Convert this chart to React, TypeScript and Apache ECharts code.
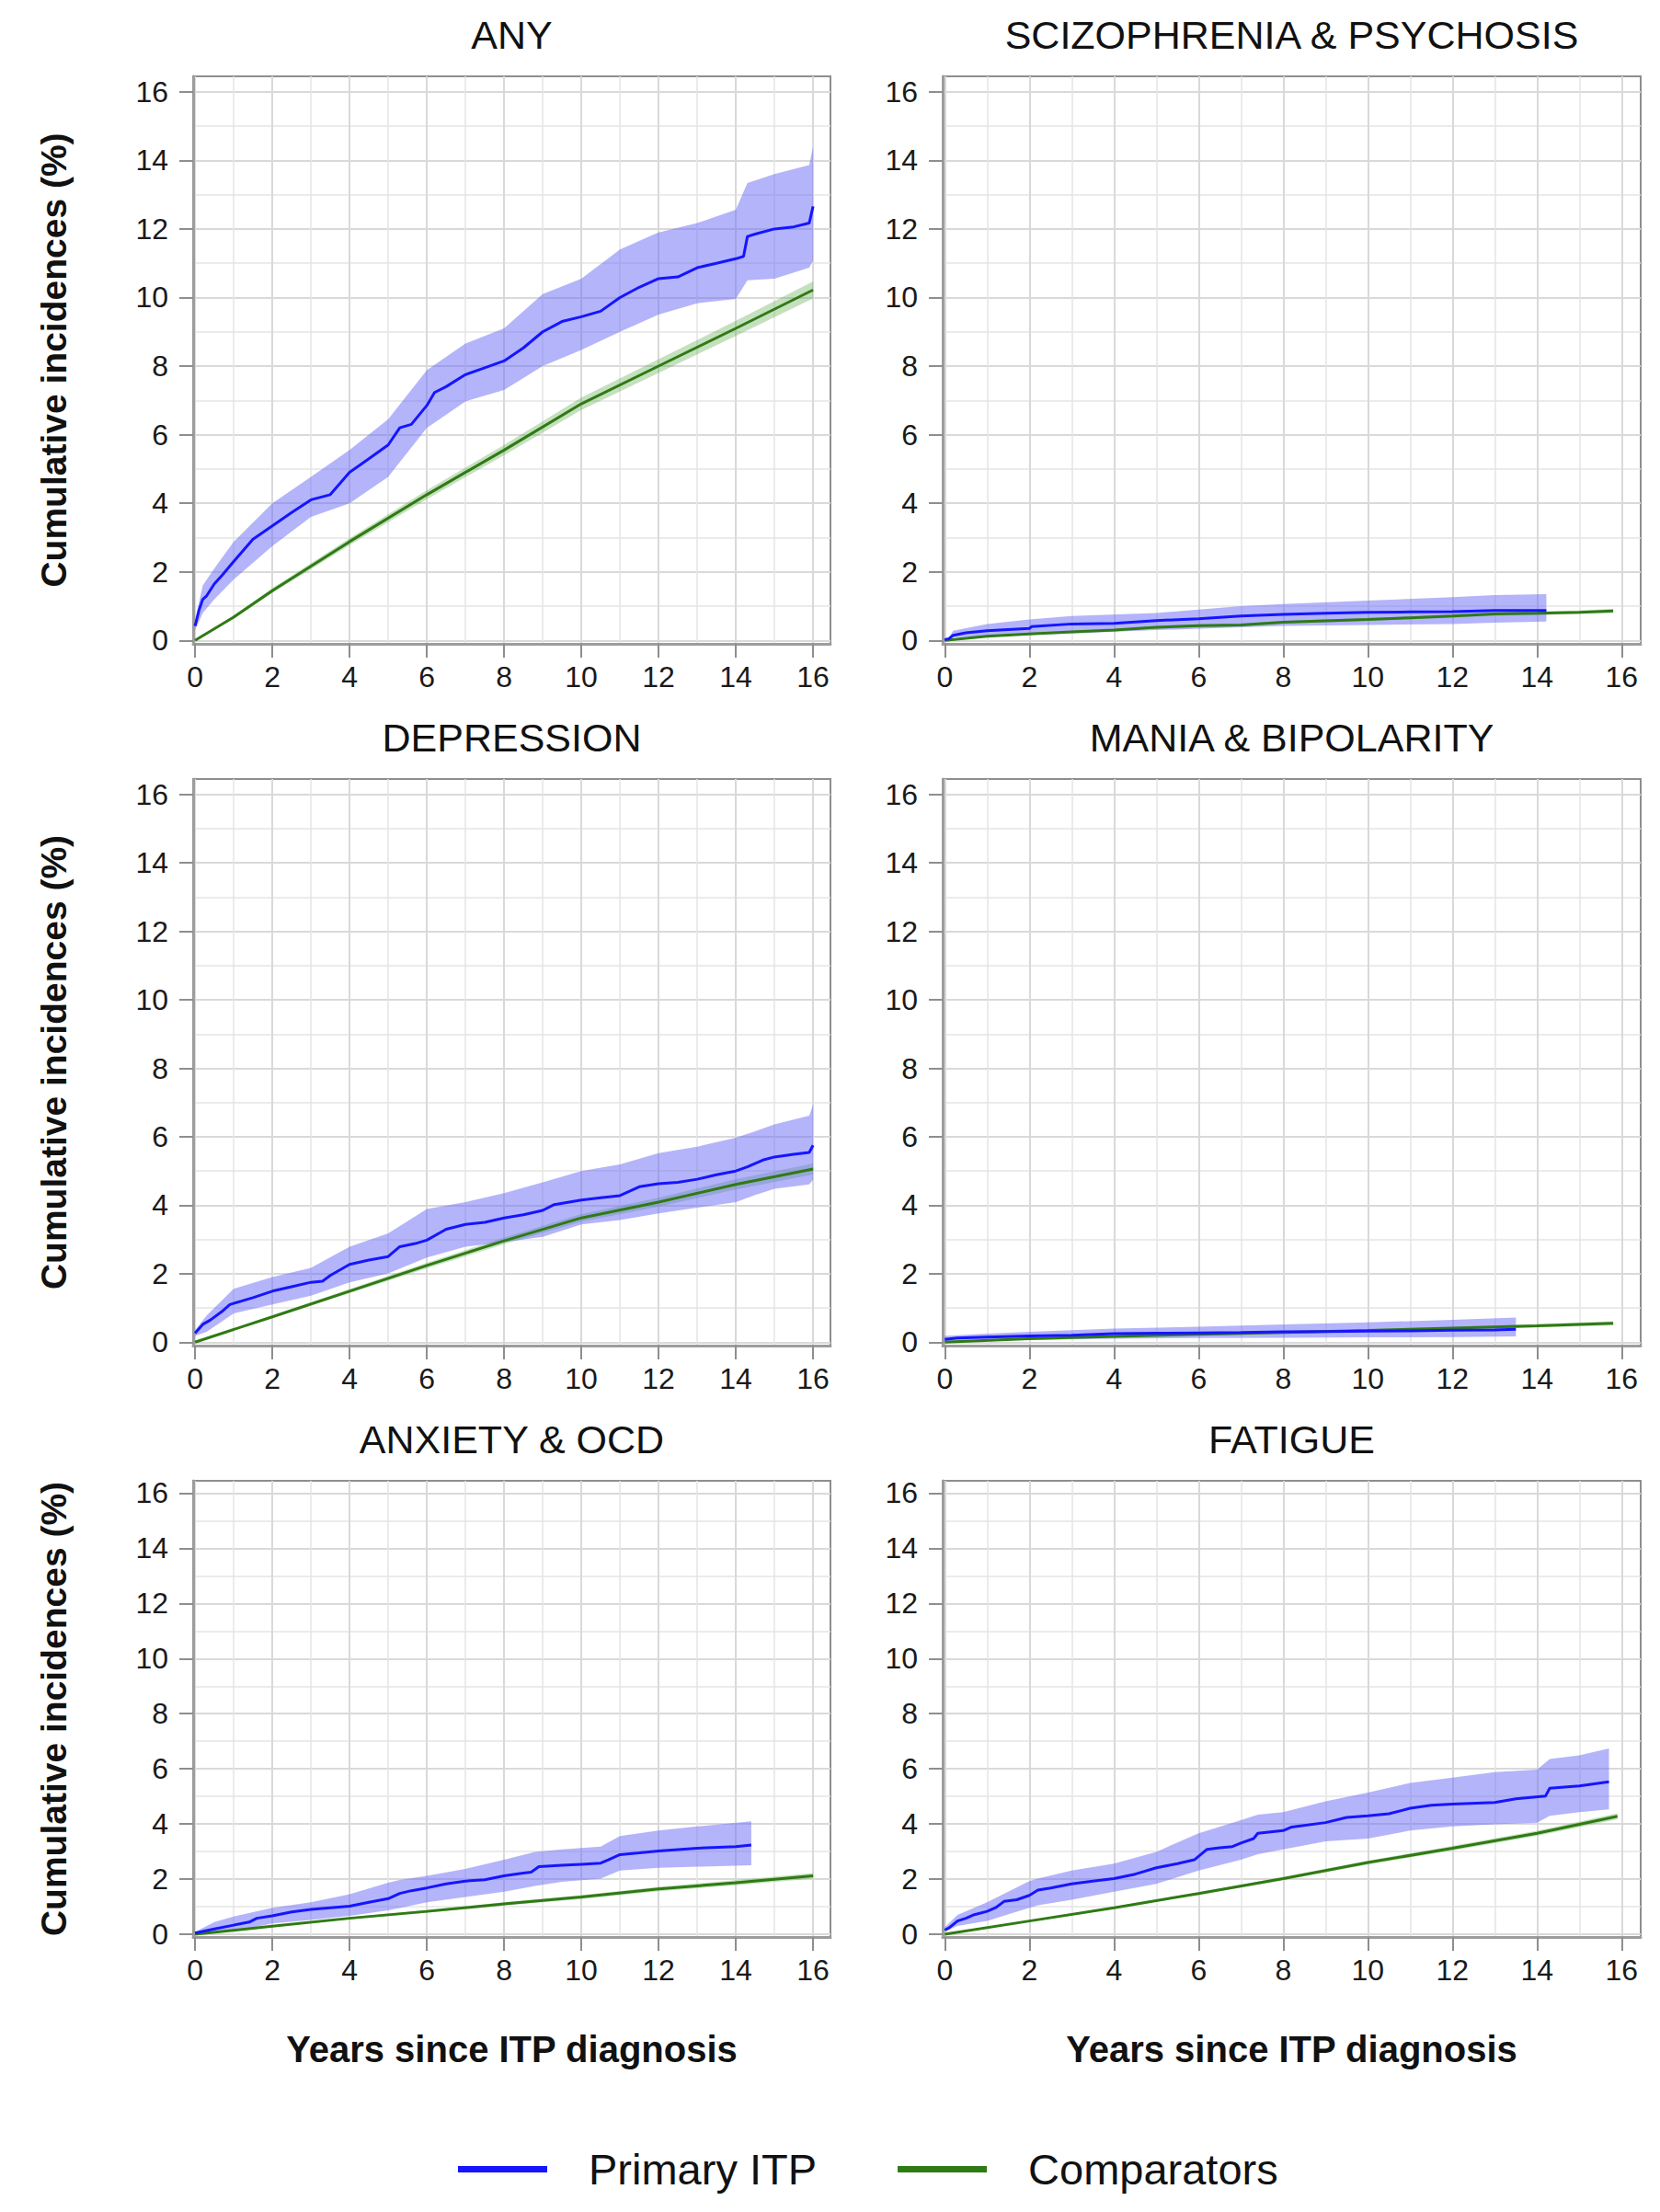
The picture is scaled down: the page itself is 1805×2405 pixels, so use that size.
import React, { useEffect, useRef } from 'react';
import * as echarts from 'echarts';

const FONT = '"Liberation Sans", Arial, Helvetica, sans-serif';

const xTickValues = [0, 2, 4, 6, 8, 10, 12, 14, 16];
const yTickValues = [0, 2, 4, 6, 8, 10, 12, 14, 16];
const panelTitles = ['ANY', 'SCIZOPHRENIA & PSYCHOSIS', 'DEPRESSION', 'MANIA & BIPOLARITY', 'ANXIETY & OCD', 'FATIGUE'];
const seriesNames = ['Primary ITP', 'Comparators'];
const yAxisTitle = 'Cumulative incidences (%)';
const xAxisTitle = 'Years since ITP diagnosis';

// ---------- ANY ----------
const anyItpX = [0, 0.1, 0.2, 0.3, 0.5, 0.7, 1.0, 1.5, 2, 2.5, 3, 3.5, 4, 4.5, 5, 5.3, 5.6, 6, 6.2, 6.5, 7, 7.5, 8, 8.5, 9, 9.5, 10, 10.5, 11, 11.5, 12, 12.5, 13, 13.5, 14, 14.2, 14.3, 14.5, 15, 15.5, 15.9, 16];
const anyItpY = [0.42, 0.87, 1.2, 1.3, 1.65, 1.9, 2.3, 2.95, 3.34, 3.73, 4.1, 4.25, 4.9, 5.3, 5.7, 6.2, 6.3, 6.85, 7.23, 7.4, 7.75, 7.95, 8.15, 8.53, 9.0, 9.3, 9.44, 9.6, 10.0, 10.3, 10.55, 10.6, 10.87, 11.0, 11.13, 11.2, 11.78, 11.85, 12.0, 12.06, 12.17, 12.66];
const anyItpBandX = [0, 0.2, 0.5, 1, 2, 3, 4, 5, 6, 7, 8, 9, 10, 11, 12, 13, 14, 14.3, 15, 15.9, 16];
const anyItpLo = [0.3, 0.8, 1.2, 1.78, 2.75, 3.6, 4.0, 4.77, 6.2, 6.97, 7.3, 8.0, 8.47, 9.0, 9.5, 9.83, 9.96, 10.5, 10.55, 10.87, 11.07];
const anyItpHi = [0.6, 1.6, 2.1, 2.88, 4.0, 4.77, 5.55, 6.45, 7.88, 8.66, 9.1, 10.1, 10.55, 11.4, 11.9, 12.17, 12.56, 13.34, 13.6, 13.86, 14.4];
const anyCompX = [0, 1, 2, 4, 6, 8, 10, 12, 14, 16];
const anyCompY = [0, 0.68, 1.45, 2.88, 4.25, 5.55, 6.9, 8.0, 9.1, 10.22];
const anyCompLo = [0, 0.63, 1.38, 2.78, 4.12, 5.4, 6.72, 7.8, 8.88, 9.97];
const anyCompHi = [0, 0.73, 1.52, 2.98, 4.38, 5.7, 7.08, 8.2, 9.32, 10.47];

// ---------- SCIZOPHRENIA & PSYCHOSIS ----------
const schItpX = [0, 0.1, 0.2, 0.5, 1, 2, 2.05, 3, 4, 5, 6, 7, 8, 9, 10, 11, 12, 13, 14.22];
const schItpY = [0.02, 0.05, 0.15, 0.22, 0.28, 0.35, 0.4, 0.48, 0.5, 0.58, 0.63, 0.71, 0.76, 0.79, 0.82, 0.83, 0.84, 0.87, 0.87];
const schItpBandX = [0.1, 0.2, 1, 2, 3, 5, 7, 8, 10, 12, 13, 14.22];
const schItpLo = [0.0, 0.09, 0.12, 0.16, 0.2, 0.3, 0.38, 0.42, 0.45, 0.48, 0.52, 0.55];
const schItpHi = [0.1, 0.28, 0.48, 0.61, 0.71, 0.8, 1.0, 1.06, 1.16, 1.26, 1.32, 1.35];
const schCompX = [0, 1, 2, 3, 4, 5, 6, 7, 8, 9, 10, 11, 12, 13, 14, 15, 15.8];
const schCompY = [0, 0.12, 0.19, 0.25, 0.3, 0.38, 0.43, 0.45, 0.53, 0.57, 0.61, 0.66, 0.71, 0.77, 0.79, 0.82, 0.86];
const schCompLo = [0, 0.1, 0.16, 0.22, 0.27, 0.34, 0.39, 0.41, 0.49, 0.53, 0.57, 0.62, 0.66, 0.72, 0.74, 0.77, 0.8];
const schCompHi = [0, 0.14, 0.22, 0.28, 0.33, 0.42, 0.47, 0.49, 0.57, 0.61, 0.65, 0.7, 0.76, 0.82, 0.84, 0.87, 0.92];

// ---------- DEPRESSION ----------
const depItpX = [0, 0.2, 0.4, 0.7, 0.9, 1.2, 1.5, 2, 2.5, 3, 3.3, 3.5, 4, 4.5, 5, 5.3, 5.7, 6, 6.5, 7, 7.5, 8, 8.5, 9, 9.3, 10, 10.5, 11, 11.5, 12, 12.5, 13, 13.5, 14, 14.3, 14.7, 15, 15.5, 15.9, 16];
const depItpY = [0.26, 0.52, 0.65, 0.9, 1.1, 1.2, 1.3, 1.49, 1.62, 1.75, 1.78, 1.95, 2.27, 2.4, 2.5, 2.79, 2.88, 2.98, 3.3, 3.44, 3.5, 3.63, 3.72, 3.85, 4.02, 4.15, 4.22, 4.28, 4.54, 4.63, 4.67, 4.76, 4.89, 5.0, 5.12, 5.32, 5.41, 5.49, 5.54, 5.75];
const depItpBandX = [0, 0.3, 1, 2, 3, 4, 5, 6, 7, 8, 9, 10, 11, 12, 13, 14, 14.5, 15, 15.9, 16];
const depItpLo = [0.18, 0.3, 0.84, 1.1, 1.36, 1.75, 2.01, 2.47, 2.79, 2.92, 3.08, 3.44, 3.57, 3.76, 3.93, 4.09, 4.3, 4.48, 4.61, 4.74];
const depItpHi = [0.35, 0.78, 1.56, 1.9, 2.17, 2.79, 3.18, 3.89, 4.09, 4.35, 4.67, 5.0, 5.19, 5.52, 5.71, 5.97, 6.16, 6.36, 6.62, 6.94];
const depCompX = [0, 2, 4, 6, 8, 10, 12, 14, 16];
const depCompY = [0, 0.74, 1.49, 2.24, 2.96, 3.63, 4.09, 4.61, 5.06];
const depCompLo = [0, 0.7, 1.43, 2.16, 2.86, 3.52, 3.96, 4.46, 4.9];
const depCompHi = [0, 0.78, 1.55, 2.32, 3.06, 3.74, 4.22, 4.76, 5.22];

// ---------- MANIA & BIPOLARITY ----------
const manItpX = [0, 0.3, 1, 2, 3, 4, 5, 6, 7, 8, 9, 10, 11, 12, 13, 13.5];
const manItpY = [0.08, 0.12, 0.15, 0.18, 0.2, 0.25, 0.26, 0.27, 0.28, 0.3, 0.31, 0.32, 0.33, 0.35, 0.36, 0.38];
const manItpBandX = [0, 1, 2, 4, 6, 8, 10, 12, 13.5];
const manItpLo = [0.02, 0.05, 0.07, 0.1, 0.12, 0.13, 0.14, 0.15, 0.17];
const manItpHi = [0.18, 0.25, 0.3, 0.4, 0.45, 0.52, 0.58, 0.65, 0.72];
const manCompX = [0, 2, 4, 6, 8, 10, 12, 14, 15.8];
const manCompY = [0, 0.1, 0.17, 0.23, 0.28, 0.34, 0.41, 0.48, 0.55];
const manCompLo = [0, 0.08, 0.15, 0.2, 0.25, 0.3, 0.37, 0.43, 0.49];
const manCompHi = [0, 0.12, 0.19, 0.26, 0.31, 0.38, 0.45, 0.53, 0.61];

// ---------- ANXIETY & OCD ----------
const anxItpX = [0, 0.5, 1, 1.4, 1.6, 2, 2.5, 3, 3.5, 4, 4.5, 5, 5.3, 5.6, 6, 6.5, 7, 7.5, 8, 8.5, 8.7, 8.9, 9.5, 10, 10.5, 10.7, 11, 11.5, 12, 13, 14, 14.4];
const anxItpY = [0.04, 0.19, 0.33, 0.44, 0.58, 0.67, 0.81, 0.9, 0.96, 1.02, 1.16, 1.29, 1.48, 1.58, 1.68, 1.83, 1.93, 1.98, 2.12, 2.22, 2.25, 2.45, 2.5, 2.54, 2.58, 2.7, 2.89, 2.95, 3.02, 3.12, 3.18, 3.24];
const anxItpBandX = [0, 0.5, 1, 2, 3, 4, 5, 5.3, 6, 7, 8, 8.8, 9.5, 10.5, 11, 12, 13, 14.4];
const anxItpLo = [0, 0.05, 0.1, 0.39, 0.52, 0.67, 0.87, 0.95, 1.16, 1.35, 1.54, 1.75, 1.9, 2.02, 2.31, 2.41, 2.45, 2.5];
const anxItpHi = [0.08, 0.44, 0.64, 0.96, 1.16, 1.45, 1.87, 1.97, 2.12, 2.37, 2.7, 2.99, 3.08, 3.18, 3.56, 3.76, 3.91, 4.1];
const anxCompX = [0, 2, 4, 6, 8, 10, 12, 14, 16];
const anxCompY = [0, 0.29, 0.58, 0.83, 1.1, 1.35, 1.64, 1.87, 2.12];
const anxCompLo = [0, 0.26, 0.54, 0.78, 1.04, 1.28, 1.56, 1.78, 2.02];
const anxCompHi = [0, 0.32, 0.62, 0.88, 1.16, 1.42, 1.72, 1.96, 2.22];

// ---------- FATIGUE ----------
const fatItpX = [0, 0.1, 0.3, 0.5, 0.7, 1, 1.2, 1.4, 1.7, 2, 2.2, 2.5, 3, 3.5, 4, 4.5, 5, 5.5, 5.9, 6.2, 6.5, 6.8, 7, 7.3, 7.4, 8, 8.2, 9, 9.5, 10, 10.5, 11, 11.5, 12, 13, 13.5, 14.2, 14.3, 15, 15.7];
const fatItpY = [0.15, 0.23, 0.48, 0.58, 0.71, 0.83, 0.96, 1.19, 1.25, 1.41, 1.6, 1.68, 1.83, 1.93, 2.02, 2.18, 2.41, 2.56, 2.7, 3.08, 3.14, 3.18, 3.31, 3.47, 3.66, 3.76, 3.89, 4.05, 4.24, 4.3, 4.37, 4.57, 4.68, 4.72, 4.78, 4.91, 5.01, 5.3, 5.38, 5.53];
const fatItpBandX = [0, 0.3, 1, 2, 2.2, 3, 4, 5, 6, 7, 7.4, 8, 9, 10, 11, 12, 13, 14, 14.3, 15, 15.7];
const fatItpLo = [0.1, 0.3, 0.48, 0.96, 1.05, 1.25, 1.54, 1.83, 2.31, 2.7, 2.9, 3.08, 3.37, 3.47, 3.76, 3.91, 3.99, 4.05, 4.3, 4.43, 4.53];
const fatItpHi = [0.25, 0.7, 1.16, 1.93, 2.02, 2.31, 2.56, 2.99, 3.66, 4.14, 4.34, 4.43, 4.82, 5.14, 5.49, 5.68, 5.88, 5.97, 6.36, 6.49, 6.74];
const fatCompX = [0, 2, 4, 6, 8, 10, 12, 14, 15.9];
const fatCompY = [0, 0.48, 0.96, 1.48, 2.02, 2.6, 3.12, 3.66, 4.28];
const fatCompLo = [0, 0.45, 0.92, 1.43, 1.96, 2.53, 3.04, 3.57, 4.17];
const fatCompHi = [0, 0.51, 1.0, 1.53, 2.08, 2.67, 3.2, 3.75, 4.39];

const panels = [
  { itpX: anyItpX, itpY: anyItpY, bandX: anyItpBandX, lo: anyItpLo, hi: anyItpHi, compX: anyCompX, compY: anyCompY, compLo: anyCompLo, compHi: anyCompHi },
  { itpX: schItpX, itpY: schItpY, bandX: schItpBandX, lo: schItpLo, hi: schItpHi, compX: schCompX, compY: schCompY, compLo: schCompLo, compHi: schCompHi },
  { itpX: depItpX, itpY: depItpY, bandX: depItpBandX, lo: depItpLo, hi: depItpHi, compX: depCompX, compY: depCompY, compLo: depCompLo, compHi: depCompHi },
  { itpX: manItpX, itpY: manItpY, bandX: manItpBandX, lo: manItpLo, hi: manItpHi, compX: manCompX, compY: manCompY, compLo: manCompLo, compHi: manCompHi },
  { itpX: anxItpX, itpY: anxItpY, bandX: anxItpBandX, lo: anxItpLo, hi: anxItpHi, compX: anxCompX, compY: anxCompY, compLo: anxCompLo, compHi: anxCompHi },
  { itpX: fatItpX, itpY: fatItpY, bandX: fatItpBandX, lo: fatItpLo, hi: fatItpHi, compX: fatCompX, compY: fatCompY, compLo: fatCompLo, compHi: fatCompHi },
];

const BLUE = '#1515ff';
const GREEN = '#2f7a14';
const BLUE_BAND = 'rgba(105,105,245,0.5)';
const GREEN_BAND = 'rgba(90,165,70,0.35)';

const colLeft = [210, 1025];
const colWidth = [693, 759];
const rowTop = [83, 847, 1610];
const rowHeight = [617, 616, 496];

function zip(xs: number[], ys: number[]) {
  return xs.map((x, i) => [x, ys[i]]);
}

function bandSeries(idx: number, xs: number[], lo: number[], hi: number[], color: string, z: number) {
  return {
    type: 'custom',
    xAxisIndex: idx,
    yAxisIndex: idx,
    silent: true,
    z,
    data: [[xs[0], lo[0]]],
    renderItem: (_params: any, api: any) => {
      const pts: number[][] = [];
      for (let i = 0; i < xs.length; i++) pts.push(api.coord([xs[i], hi[i]]));
      for (let i = xs.length - 1; i >= 0; i--) pts.push(api.coord([xs[i], lo[i]]));
      return { type: 'polygon', shape: { points: pts }, style: { fill: color, stroke: 'none' } };
    },
  };
}

function buildOption() {
  const grid: any[] = [];
  const xAxis: any[] = [];
  const yAxis: any[] = [];
  const series: any[] = [];
  const graphic: any[] = [];

  const labelFmt = (v: number) => (Number.isInteger(v) ? String(v) : '');

  panels.forEach((p, i) => {
    const col = i % 2;
    const row = Math.floor(i / 2);
    const left = colLeft[col];
    const top = rowTop[row];
    const width = colWidth[col];
    const height = rowHeight[row];
    grid.push({
      left, top, width, height,
      show: true, borderColor: '#8e8e8e', borderWidth: 2, backgroundColor: '#ffffff',
      containLabel: false,
    });
    const common = {
      type: 'value',
      gridIndex: i,
      splitNumber: 8,
      axisLine: { show: true, onZero: false, lineStyle: { color: '#9c9c9c', width: 3 } },
      axisTick: { show: true, length: 15, inside: false, lineStyle: { color: '#8e8e8e', width: 2 } },
      axisLabel: { show: true, fontSize: 32, color: '#1a1a1a', fontFamily: FONT, formatter: labelFmt },
      splitLine: { show: true, lineStyle: { color: '#d9d9d9', width: 2 } },
      minorTick: { show: false, splitNumber: 2 },
      minorSplitLine: { show: true, lineStyle: { color: '#e4e4e4', width: 1.5 } },
    };
    xAxis.push({
      ...common,
      min: -0.05, max: 16.45,
      axisTick: { ...common.axisTick, customValues: xTickValues },
      axisLabel: { ...common.axisLabel, margin: 20, customValues: xTickValues },
    });
    yAxis.push({
      ...common,
      min: -0.1, max: 16.45,
      axisTick: { ...common.axisTick, customValues: yTickValues },
      axisLabel: { ...common.axisLabel, margin: 27, customValues: yTickValues },
    });

    series.push(bandSeries(i, p.compX, p.compLo, p.compHi, GREEN_BAND, 1));
    series.push(bandSeries(i, p.bandX, p.lo, p.hi, BLUE_BAND, 2));
    series.push({
      type: 'line', name: seriesNames[1], xAxisIndex: i, yAxisIndex: i,
      data: zip(p.compX, p.compY), showSymbol: false, symbol: 'none', z: 3,
      lineStyle: { color: GREEN, width: 3 }, itemStyle: { color: GREEN }, silent: true,
    });
    series.push({
      type: 'line', name: seriesNames[0], xAxisIndex: i, yAxisIndex: i,
      data: zip(p.itpX, p.itpY), showSymbol: false, symbol: 'none', z: 4,
      lineStyle: { color: BLUE, width: 3 }, itemStyle: { color: BLUE }, silent: true,
    });

    graphic.push({
      type: 'text', x: left + width / 2, y: top - 45,
      style: { text: panelTitles[i], fontSize: 43, fontFamily: FONT, fill: '#111111', align: 'center', verticalAlign: 'middle' },
    });
    if (col === 0) {
      graphic.push({
        type: 'text', x: 58, y: top + height / 2, rotation: Math.PI / 2,
        style: { text: yAxisTitle, fontSize: 39, fontWeight: 'bold', fontFamily: FONT, fill: '#111111', align: 'center', verticalAlign: 'middle' },
      });
    }
    if (row === 2) {
      graphic.push({
        type: 'text', x: left + width / 2, y: 2228,
        style: { text: xAxisTitle, fontSize: 40, fontWeight: 'bold', fontFamily: FONT, fill: '#111111', align: 'center', verticalAlign: 'middle' },
      });
    }
  });

  return {
    animation: false,
    backgroundColor: '#ffffff',
    textStyle: { fontFamily: FONT },
    grid, xAxis, yAxis, series, graphic,
    legend: {
      data: seriesNames,
      left: 493, top: 2330,
      itemWidth: 97, itemHeight: 7, itemGap: 88,
      icon: 'rect',
      selectedMode: false,
      textStyle: { fontSize: 47, fontFamily: FONT, color: '#111111', padding: [0, 0, 0, 40] },
    },
  };
}

export default function App() {
  const ref = useRef<HTMLDivElement>(null);
  useEffect(() => {
    document.body.style.margin = '0';
    const chart = echarts.init(ref.current as HTMLDivElement, null, { renderer: 'svg' });
    chart.setOption(buildOption() as any);
    return () => chart.dispose();
  }, []);
  return <div ref={ref} style={{ width: 1805, height: 2405 }} />;
}
